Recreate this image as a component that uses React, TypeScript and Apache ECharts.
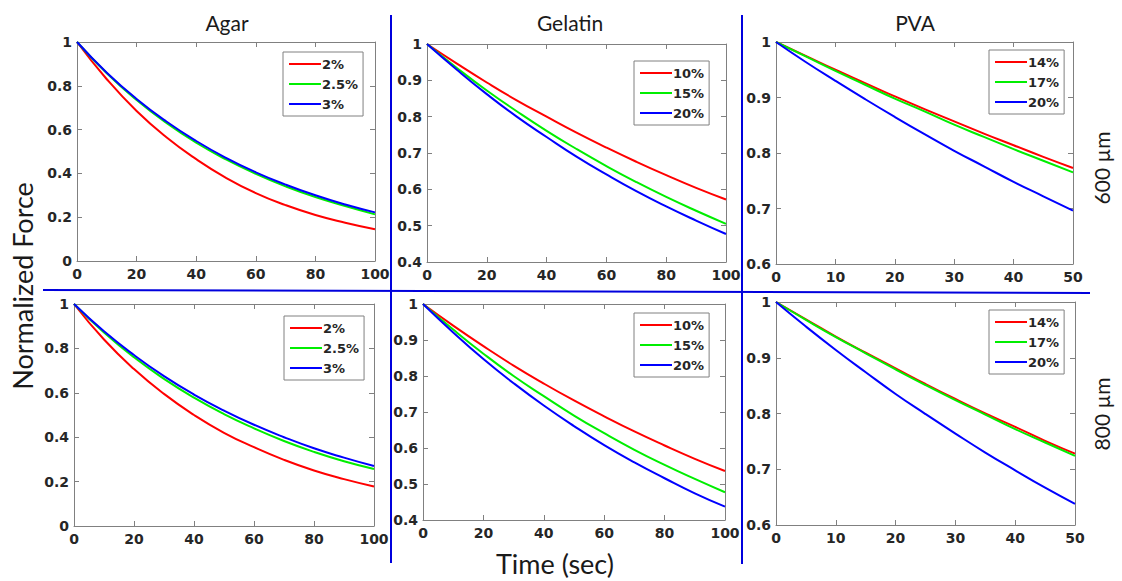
import React, { useEffect, useRef } from "react";
import * as echarts from "echarts";

// ---- data ----
const timeLong = [0, 10, 20, 30, 40, 50, 60, 70, 80, 90, 100];
const timeShort = [0, 5, 10, 15, 20, 25, 30, 35, 40, 45, 50];

const agarLabels = ["2%", "2.5%", "3%"];
const gelatinLabels = ["10%", "15%", "20%"];
const pvaLabels = ["14%", "17%", "20%"];

const columnTitles = ["Agar", "Gelatin", "PVA"];
const rowLabels = ["600 µm", "800 µm"];
const xAxisTitle = "Time (sec)";
const yAxisTitle = "Normalized Force";

// 600 µm
const agar600_2 = [1, 0.83, 0.685, 0.565, 0.465, 0.38, 0.31, 0.255, 0.21, 0.175, 0.145];
const agar600_25 = [1, 0.857, 0.735, 0.63, 0.54, 0.464, 0.398, 0.341, 0.292, 0.251, 0.213];
const agar600_3 = [1, 0.86, 0.74, 0.637, 0.548, 0.471, 0.405, 0.349, 0.3, 0.258, 0.222];

const gel600_10 = [1, 0.946, 0.894, 0.845, 0.8, 0.756, 0.715, 0.676, 0.639, 0.604, 0.572];
const gel600_15 = [1, 0.934, 0.872, 0.815, 0.761, 0.711, 0.664, 0.62, 0.579, 0.541, 0.505];
const gel600_20 = [1, 0.929, 0.862, 0.8, 0.744, 0.69, 0.641, 0.595, 0.553, 0.514, 0.477];

const pva600_14 = [1, 0.975, 0.95, 0.926, 0.902, 0.879, 0.857, 0.835, 0.814, 0.793, 0.773];
const pva600_17 = [1, 0.974, 0.948, 0.923, 0.898, 0.875, 0.851, 0.829, 0.807, 0.786, 0.765];
const pva600_20 = [1, 0.964, 0.93, 0.897, 0.865, 0.834, 0.804, 0.776, 0.748, 0.722, 0.696];

// 800 µm
const agar800_2 = [1, 0.84, 0.707, 0.595, 0.5, 0.42, 0.355, 0.298, 0.25, 0.211, 0.178];
const agar800_25 = [1, 0.872, 0.76, 0.663, 0.578, 0.504, 0.44, 0.383, 0.334, 0.292, 0.257];
const agar800_3 = [1, 0.877, 0.77, 0.675, 0.592, 0.52, 0.456, 0.4, 0.35, 0.308, 0.27];

const gel800_10 = [1, 0.94, 0.883, 0.829, 0.779, 0.732, 0.688, 0.646, 0.607, 0.57, 0.536];
const gel800_15 = [1, 0.929, 0.862, 0.8, 0.744, 0.69, 0.641, 0.595, 0.553, 0.514, 0.477];
const gel800_20 = [1, 0.921, 0.847, 0.78, 0.718, 0.661, 0.608, 0.56, 0.516, 0.474, 0.437];

const pva800_14 = [1, 0.969, 0.938, 0.909, 0.881, 0.853, 0.826, 0.8, 0.776, 0.751, 0.728];
const pva800_17 = [1, 0.968, 0.937, 0.908, 0.879, 0.851, 0.824, 0.798, 0.772, 0.748, 0.724];
const pva800_20 = [1, 0.956, 0.914, 0.874, 0.835, 0.799, 0.764, 0.73, 0.698, 0.667, 0.638];

const lineColors = ["#ff0000", "#00ee00", "#0000ff"];

// ---- panel layout ----
const panels = [
  { grid: { left: 77, top: 42, width: 298, height: 219 }, legend: { left: 283, top: 52 }, x: timeLong, xMax: 100, xInt: 20, yMin: 0, yInt: 0.2, labels: agarLabels, series: [agar600_2, agar600_25, agar600_3] },
  { grid: { left: 427, top: 44, width: 299, height: 218 }, legend: { left: 634, top: 61 }, x: timeLong, xMax: 100, xInt: 20, yMin: 0.4, yInt: 0.1, labels: gelatinLabels, series: [gel600_10, gel600_15, gel600_20] },
  { grid: { left: 776, top: 42, width: 297, height: 222 }, legend: { left: 989, top: 50 }, x: timeShort, xMax: 50, xInt: 10, yMin: 0.6, yInt: 0.1, labels: pvaLabels, series: [pva600_14, pva600_17, pva600_20] },
  { grid: { left: 74, top: 304, width: 300, height: 222 }, legend: { left: 284, top: 316 }, x: timeLong, xMax: 100, xInt: 20, yMin: 0, yInt: 0.2, labels: agarLabels, series: [agar800_2, agar800_25, agar800_3] },
  { grid: { left: 423, top: 304, width: 302, height: 216 }, legend: { left: 634, top: 313 }, x: timeLong, xMax: 100, xInt: 20, yMin: 0.4, yInt: 0.1, labels: gelatinLabels, series: [gel800_10, gel800_15, gel800_20] },
  { grid: { left: 776, top: 302, width: 299, height: 223 }, legend: { left: 989, top: 310 }, x: timeShort, xMax: 50, xInt: 10, yMin: 0.6, yInt: 0.1, labels: pvaLabels, series: [pva800_14, pva800_17, pva800_20] },
];

const AXIS_COLOR = "#808080";
const NUM_FONT = "'DejaVu Sans', sans-serif";
const LABEL_FONT = { fontSize: 14, fontWeight: "bold" as const, color: "#262626", fontFamily: NUM_FONT };
const BLUE = "#0000dd";
const TEXT_FONT = "Lato, 'Open Sans', sans-serif";

function buildOption() {
  const grid: any[] = [];
  const xAxis: any[] = [];
  const yAxis: any[] = [];
  const series: any[] = [];
  const legend: any[] = [];

  panels.forEach((p, i) => {
    grid.push({ ...p.grid, containLabel: false });
    const tick = { show: true, inside: true, length: 5, lineStyle: { color: AXIS_COLOR } };
    const line = { show: true, onZero: false, lineStyle: { color: AXIS_COLOR, width: 1 } };
    xAxis.push({
      type: "value", gridIndex: i, position: "bottom", min: 0, max: p.xMax, interval: p.xInt,
      axisLine: line, axisTick: tick, splitLine: { show: false },
      axisLabel: { ...LABEL_FONT, margin: 6 },
    });
    xAxis.push({
      type: "value", gridIndex: i, position: "top", min: 0, max: p.xMax, interval: p.xInt,
      axisLine: line, axisTick: tick, splitLine: { show: false }, axisLabel: { show: false },
    });
    yAxis.push({
      type: "value", gridIndex: i, position: "left", min: p.yMin, max: 1, interval: p.yInt,
      axisLine: line, axisTick: tick, splitLine: { show: false },
      axisLabel: { ...LABEL_FONT, margin: 5 },
    });
    yAxis.push({
      type: "value", gridIndex: i, position: "right", min: p.yMin, max: 1, interval: p.yInt,
      axisLine: line, axisTick: tick, splitLine: { show: false }, axisLabel: { show: false },
    });
    p.series.forEach((vals, k) => {
      series.push({
        type: "line", name: p.labels[k], xAxisIndex: 2 * i, yAxisIndex: 2 * i,
        data: p.x.map((t, j) => [t, vals[j]]),
        showSymbol: false, symbol: "none", smooth: true,
        lineStyle: { color: lineColors[k], width: 2 }, itemStyle: { color: lineColors[k] },
        z: 3 + k,
      });
    });
    legend.push({
      left: p.legend.left, top: p.legend.top, orient: "vertical",
      data: p.labels, icon: "rect", itemWidth: 32, itemHeight: 2, itemGap: 6,
      padding: [5, 5, 5, 6], backgroundColor: "#fff", borderColor: AXIS_COLOR, borderWidth: 1,
      textStyle: { fontSize: 13, fontWeight: "bold", color: "#262626", fontFamily: NUM_FONT, lineHeight: 14, padding: [0, 0, 0, -4] },
      selectedMode: false,
    });
  });

  const titleFont = `21px ${TEXT_FONT}`;
  const graphic: any[] = [
    { type: "line", shape: { x1: 391, y1: 15, x2: 391, y2: 563 }, style: { stroke: BLUE, lineWidth: 2 } },
    { type: "line", shape: { x1: 742, y1: 15, x2: 742, y2: 564 }, style: { stroke: BLUE, lineWidth: 2 } },
    { type: "line", shape: { x1: 43, y1: 290, x2: 1090, y2: 293 }, style: { stroke: BLUE, lineWidth: 2 } },
    { type: "text", x: 227, y: 22, style: { text: columnTitles[0], font: titleFont, fill: "#1a1a1a", align: "center", verticalAlign: "middle" } },
    { type: "text", x: 570, y: 22, style: { text: columnTitles[1], font: titleFont, fill: "#1a1a1a", align: "center", verticalAlign: "middle" } },
    { type: "text", x: 915, y: 22, style: { text: columnTitles[2], font: titleFont, fill: "#1a1a1a", align: "center", verticalAlign: "middle" } },
    { type: "text", x: 22, y: 286, rotation: Math.PI / 2, style: { text: yAxisTitle, font: `27px ${TEXT_FONT}`, fill: "#1a1a1a", align: "center", verticalAlign: "middle" } },
    { type: "text", x: 555, y: 563, style: { text: xAxisTitle, font: `27px ${TEXT_FONT}`, fill: "#1a1a1a", align: "center", verticalAlign: "middle" } },
    { type: "text", x: 1101, y: 168, rotation: Math.PI / 2, style: { text: rowLabels[0], font: `21px ${TEXT_FONT}`, fill: "#1a1a1a", align: "center", verticalAlign: "middle" } },
    { type: "text", x: 1101, y: 414, rotation: Math.PI / 2, style: { text: rowLabels[1], font: `21px ${TEXT_FONT}`, fill: "#1a1a1a", align: "center", verticalAlign: "middle" } },
  ];

  return { animation: false, backgroundColor: "#ffffff", grid, xAxis, yAxis, series, legend, graphic };
}

export default function App() {
  const ref = useRef<HTMLDivElement>(null);
  useEffect(() => {
    if (!ref.current) return;
    const chart = echarts.init(ref.current, undefined, { renderer: "svg" });
    chart.setOption(buildOption() as any);
    return () => chart.dispose();
  }, []);
  return <div ref={ref} style={{ position: "fixed", left: 0, top: 0, width: 1122, height: 581 }} />;
}
